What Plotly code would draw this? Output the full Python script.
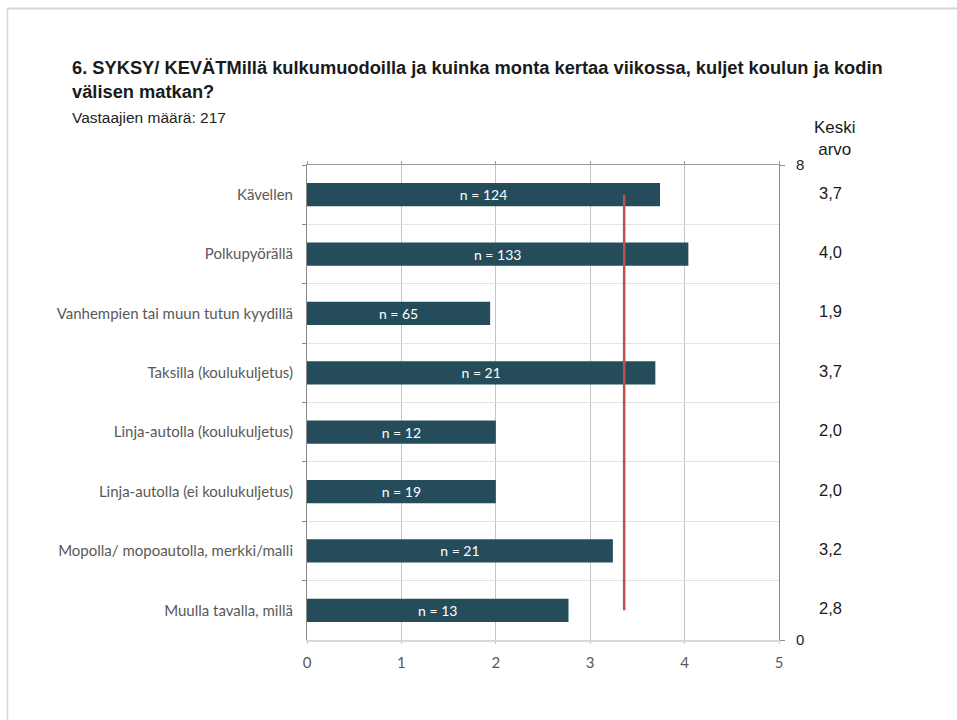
import plotly.graph_objects as go

# Travel modes (top to bottom) and their weekly averages
categories = [
    "Kävellen",
    "Polkupyörällä",
    "Vanhempien tai muun tutun kyydillä",
    "Taksilla (koulukuljetus)",
    "Linja-autolla (koulukuljetus)",
    "Linja-autolla (ei koulukuljetus)",
    "Mopolla/ mopoautolla, merkki/malli",
    "Muulla tavalla, millä",
]
means = [3.74, 4.04, 1.94, 3.69, 2.0, 2.0, 3.24, 2.77]
counts = [124, 133, 65, 21, 12, 19, 21, 13]
overall_mean = 3.36
x_ticks = [0, 1, 2, 3, 4, 5]
right_ticks = [0, 8]

# Averages shown in the right-hand column, Finnish decimal comma
mean_labels = [f"{v:.1f}".replace(".", ",") for v in means]

W, H = 957, 720
ML, MR, MT, MB = 307, 178, 165, 80
PW, PH = W - ML - MR, H - MT - MB


def px(x):
    return (x - ML) / PW


def py(y):
    return (H - MB - y) / PH


BAR = "#244c5a"
GRAY_TXT = "#595959"
LABEL_FONT = "Lato"

fig = go.Figure()

fig.add_trace(go.Bar(
    x=means,
    y=categories,
    orientation="h",
    marker=dict(color=BAR, line=dict(width=0)),
    text=[f"n = {n}" for n in counts],
    textposition="inside",
    insidetextanchor="middle",
    textfont=dict(family=LABEL_FONT, size=14, color="white"),
    hoverinfo="skip",
    showlegend=False,
))

# Overall average drawn as a vertical line
fig.add_trace(go.Scatter(
    x=[overall_mean, overall_mean],
    y=[categories[0], categories[-1]],
    mode="lines",
    line=dict(color="#c0504d", width=2.5),
    hoverinfo="skip",
    showlegend=False,
))

# Helper trace so the secondary axes get drawn
fig.add_trace(go.Scatter(
    x=[0], y=[0], xaxis="x2", yaxis="y2",
    mode="markers", marker=dict(opacity=0),
    hoverinfo="skip", showlegend=False,
))

fig.update_layout(
    width=W, height=H,
    margin=dict(l=ML, r=MR, t=MT, b=MB),
    paper_bgcolor="white",
    plot_bgcolor="white",
    bargap=0.61,
    xaxis=dict(
        range=[0, 5],
        tickvals=x_ticks,
        showgrid=True, gridcolor="#c4c4c4", gridwidth=1.2,
        showline=True, linecolor="#d9d9d9", linewidth=1.5,
        ticks="outside", ticklen=2, tickcolor="#c4c4c4",
        zeroline=False,
        ticklabelstandoff=6,
        tickfont=dict(family=LABEL_FONT, size=15, color=GRAY_TXT),
        fixedrange=True,
    ),
    xaxis2=dict(
        overlaying="x", side="top", range=[0, 5],
        tickvals=x_ticks, showticklabels=False,
        showgrid=False, zeroline=False,
        showline=True, linecolor="#9a9a9a", linewidth=1,
        ticks="outside", ticklen=3, tickcolor="#9a9a9a",
    ),
    yaxis=dict(
        type="category",
        categoryorder="array", categoryarray=categories,
        autorange="reversed",
        tickson="boundaries",
        showgrid=True, gridcolor="#e3e3e3", gridwidth=1,
        showline=True, linecolor="#8a8a8a", linewidth=1,
        ticks="outside", ticklen=4, tickcolor="#8a8a8a",
        ticklabelstandoff=10,
        tickfont=dict(family=LABEL_FONT, size=15, color=GRAY_TXT),
        fixedrange=True,
    ),
    yaxis2=dict(
        overlaying="y", side="right", range=[0, 8],
        tickvals=right_ticks, showgrid=False, zeroline=False,
        showline=True, linecolor="#8a8a8a", linewidth=1,
        ticks="outside", ticklen=5, tickcolor="#8a8a8a",
        ticklabelstandoff=8,
        tickfont=dict(family="Liberation Sans", size=15, color="#222222"),
    ),
)

annotations = [
    dict(
        text="<b>6. SYKSY/ KEVÄTMillä kulkumuodoilla ja kuinka monta kertaa viikossa, kuljet koulun ja kodin<br>välisen matkan?</b>",
        xref="paper", yref="paper", x=px(70), y=py(55),
        xanchor="left", yanchor="top", align="left", showarrow=False,
        font=dict(family="Liberation Sans", size=18.3, color="#1a1a1a"),
    ),
    dict(
        text="Vastaajien määrä: 217",
        xref="paper", yref="paper", x=px(70), y=py(117),
        xanchor="left", yanchor="middle", showarrow=False,
        font=dict(family="Liberation Sans", size=15.5, color="#222222"),
    ),
    dict(
        text="Keski<br>arvo",
        xref="paper", yref="paper", x=px(835), y=py(139),
        xanchor="center", yanchor="middle", showarrow=False,
        font=dict(family="Liberation Sans", size=17, color="#1a1a1a"),
    ),
]
for cat, lab in zip(categories, mean_labels):
    annotations.append(dict(
        text=lab, xref="paper", yref="y", x=px(830), y=cat,
        xanchor="center", yanchor="middle", yshift=2, showarrow=False,
        font=dict(family="Liberation Sans", size=16.5, color="#1a1a1a"),
    ))
fig.update_layout(annotations=annotations)

# Thin frame along the top and left edges of the page
fig.update_layout(shapes=[
    dict(type="line", xref="paper", yref="paper",
         x0=px(7), x1=px(957), y0=py(8.5), y1=py(8.5),
         line=dict(color="#d6d6d6", width=2)),
    dict(type="line", xref="paper", yref="paper",
         x0=px(7.5), x1=px(7.5), y0=py(8.5), y1=py(720),
         line=dict(color="#d6d6d6", width=1.5)),
])

fig.write_html("out.html")
